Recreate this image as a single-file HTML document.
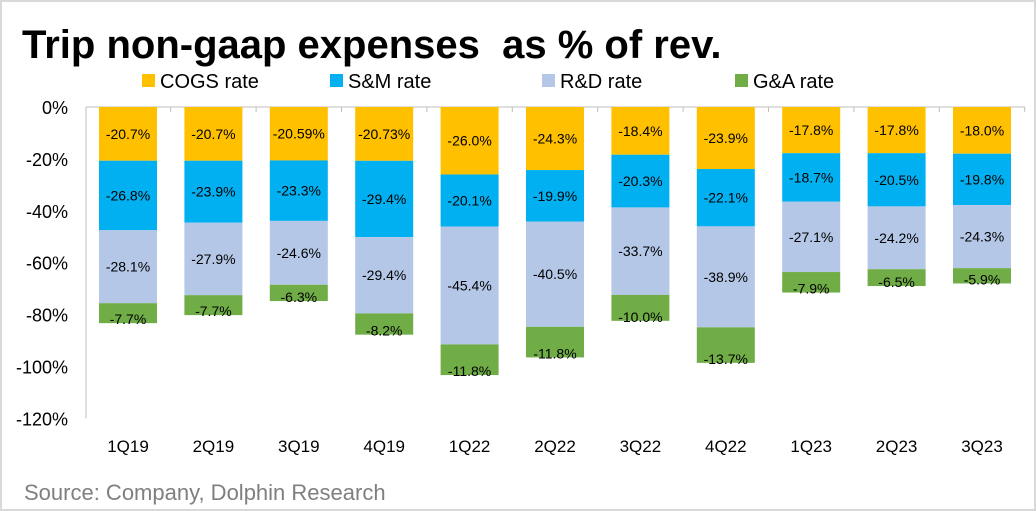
<!DOCTYPE html>
<html><head><meta charset="utf-8"><style>
body{margin:0;width:1036px;height:511px;background:#fff;overflow:hidden;font-family:"Liberation Sans",sans-serif}
#frame{position:absolute;left:0;top:0;width:1032px;height:507px;border:2px solid #d9d9d9}
</style></head><body>
<div id="frame"></div>
<svg id="chart" width="1036" height="511" style="position:absolute;left:0;top:0">
<text x="22" y="58" font-size="40" font-weight="bold" fill="#000">Trip non-gaap expenses&#160; as % of rev.</text>
<text x="24" y="500" font-size="22" fill="#7f7f7f">Source: Company, Dolphin Research</text>
<g id="legend"></g>
<g id="axes"></g>
<g id="bars"></g>
</svg>
<script>
const categories=["1Q19","2Q19","3Q19","4Q19","1Q22","2Q22","3Q22","4Q22","1Q23","2Q23","3Q23"];
const cogs=[20.7,20.7,20.59,20.73,26.0,24.3,18.4,23.9,17.8,17.8,18.0];
const cogsLabels=["-20.7%","-20.7%","-20.59%","-20.73%","-26.0%","-24.3%","-18.4%","-23.9%","-17.8%","-17.8%","-18.0%"];
const sm=[26.8,23.9,23.3,29.4,20.1,19.9,20.3,22.1,18.7,20.5,19.8];
const rd=[28.1,27.9,24.6,29.4,45.4,40.5,33.7,38.9,27.1,24.2,24.3];
const ga=[7.7,7.7,6.3,8.2,11.8,11.8,10.0,13.7,7.9,6.5,5.9];
const yTicks=[0,-20,-40,-60,-80,-100,-120];
const seriesNames=["COGS rate","S&M rate","R&D rate","G&A rate"];
const colors=["#FFC000","#00B0F0","#B4C7E7","#70AD47"];
const NS="http://www.w3.org/2000/svg";
function el(t,a,p){const e=document.createElementNS(NS,t);for(const k in a)e.setAttribute(k,a[k]);p.appendChild(e);return e;}
const y0=107,pxPer=2.595,left=86,step=85.4,x0=128,bw=58;
const Y=v=>y0-v*pxPer;
const X=i=>x0+i*step;
const axes=document.getElementById('axes');
yTicks.forEach(t=>{const tx=el('text',{x:68,y:Y(t)+7,'font-size':18,'text-anchor':'end',fill:'#000'},axes);tx.textContent=t+'%';

});
const va=el('line',{x1:left,y1:Y(0),x2:left,y2:Y(-120),stroke:'#bfbfbf','stroke-width':1},axes);


const ha=el('line',{x1:left,y1:Y(0),x2:1025,y2:Y(0),stroke:'#bfbfbf','stroke-width':1},axes);


categories.forEach((c,i)=>{
 const tk=el('line',{x1:X(i)+step/2,y1:Y(0),x2:X(i)+step/2,y2:Y(0)+5,stroke:'#bfbfbf'},axes);
 
 
 const t=el('text',{x:X(i),y:452,'font-size':17,'text-anchor':'middle',fill:'#000'},axes);t.textContent=c;
 
 
});
const bars=document.getElementById('bars');
const series=[cogs,sm,rd,ga];
categories.forEach((c,i)=>{
 let acc=0;
 series.forEach((s,k)=>{
  const v=s[i];const top=Y(-acc),bot=Y(-(acc+v));
  const r=el('rect',{x:X(i)-bw/2,y:top,width:bw,height:bot-top,fill:colors[k]},bars);
  
  
  let ly=(top+bot)/2+5;
  if(k===3) ly=bot+1;
  const lab=k===0?cogsLabels[i]:'-'+v.toFixed(1)+'%';
  const t=el('text',{x:X(i),y:ly,'font-size':14,'text-anchor':'middle',fill:'#000'},bars);t.textContent=lab;
  
  
  acc+=v;
 });
});
const lg=document.getElementById('legend');
const lx=[142,330,542,735];
seriesNames.forEach((n,k)=>{
 const r=el('rect',{x:lx[k],y:74,width:13,height:13,fill:colors[k]},lg);
 
 
 const t=el('text',{x:lx[k]+18,y:88,'font-size':20,fill:'#000'},lg);t.textContent=n;
 
 
});
</script>
</body></html>
